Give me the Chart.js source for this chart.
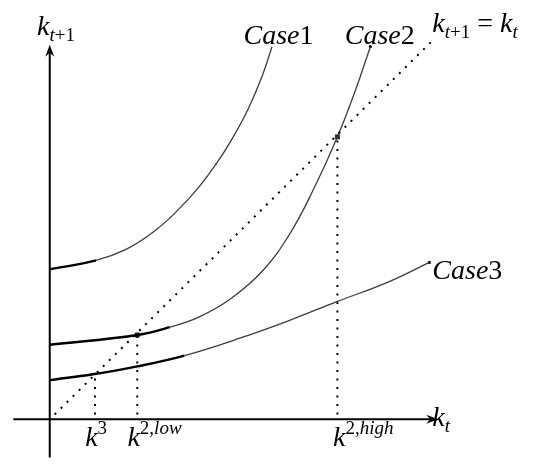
<!DOCTYPE html>
<html>
<head>
<meta charset="utf-8">
<script src="https://cdn.jsdelivr.net/npm/chart.js@4.4.0/dist/chart.umd.min.js"></script>
<style>
  html, body { margin: 0; padding: 0; background: #fff; }
  #wrap { width: 545px; height: 466px; }
</style>
</head>
<body>
<div id="wrap"><canvas id="myChart" width="545" height="466"></canvas></div>
<script>
// k_t on the x axis, k_{t+1} on the y axis, origin at (0, 0)
const case1X = [0, 47, 77, 104, 127, 151, 171, 186, 202, 216, 226];
const case1Y = [153, 162, 173, 190, 210, 236, 263, 287, 317, 350, 380];

const case2X = [0, 89, 122, 151, 184, 217, 244, 267, 292.5, 311, 326];
const case2Y = [76, 86, 94, 104, 123, 152, 189, 232, 288, 336, 380];

const case3X = [0, 44, 89, 137, 194, 244, 292, 344, 386];
const case3Y = [40, 46, 54, 65, 83, 101, 120, 140, 160];

// 45 degree line k_{t+1} = k_t
const diagX = [5, 388];
const diagY = [5, 385];

// steady states: k3, k2 low, k2 high
const steadyX = [46, 89, 292.5];
const steadyY = [46, 86, 288];

// axes
const xAxisX = [-37, 387];
const yAxisY = [-39, 378];

const pts = (xs, ys) => xs.map((v, i) => ({ x: v, y: ys[i] }));

const textLabels = [
  { at: [-13, 392], runs: [['k', 'i'], ['t', 'i', 'sub'], ['+1', '', 'sub']] },
  { at: [197, 383], runs: [['Case', 'i'], ['1', '']] },
  { at: [300, 383], runs: [['Case', 'i'], ['2', '']] },
  { at: [389, 395], runs: [['k', 'i'], ['t', 'i', 'sub'], ['+1', '', 'sub'], [' = ', ''], ['k', 'i'], ['t', 'i', 'sub']] },
  { at: [389, 143], runs: [['Case', 'i'], ['3', '']] },
  { at: [36, -27], runs: [['k', 'i'], ['3', '', 'sup']] },
  { at: [79, -27], runs: [['k', 'i'], ['2,', '', 'sup'], ['low', 'i', 'sup']] },
  { at: [288, -27], runs: [['k', 'i'], ['2,', '', 'sup'], ['high', 'i', 'sup']] },
  { at: [389, -7], runs: [['k', 'i'], ['t', 'i', 'sub']] }
];

function curve(xs, ys, thick) {
  return {
    data: pts(xs, ys),
    borderColor: '#3c3c3c',
    borderWidth: 1.3,
    pointRadius: 0,
    tension: 0.4,
    segment: {
      borderWidth: ctx => ctx.p0DataIndex < thick ? 2.4 : 1.3,
      borderColor: ctx => ctx.p0DataIndex < thick ? '#000' : '#3c3c3c'
    }
  };
}

const dotted = {
  borderColor: '#000',
  borderWidth: 2,
  borderDash: [2, 6.5],
  pointRadius: 0
};

const datasets = [
  { data: pts(xAxisX, [0, 0]), borderColor: '#000', borderWidth: 2, pointRadius: 0 },
  { data: pts([0, 0], yAxisY), borderColor: '#000', borderWidth: 2, pointRadius: 0 },
  Object.assign({ data: pts(diagX, diagY) }, dotted),
  curve(case1X, case1Y, 1),
  curve(case2X, case2Y, 2),
  curve(case3X, case3Y, 3)
];
steadyX.forEach((sx, i) => {
  datasets.push(Object.assign({ data: pts([sx, sx], [5, steadyY[i]]) }, dotted));
});
datasets.push({
  data: pts([89, 292.5], [86, 288]),
  showLine: false,
  pointStyle: 'rect',
  pointRadius: 3,
  backgroundColor: '#222',
  borderColor: '#000',
  borderWidth: 0.5
});
datasets.push({
  data: [pts(case2X, case2Y)[case2X.length - 1], pts(case3X, case3Y)[case3X.length - 1]],
  showLine: false,
  pointRadius: 1.6,
  backgroundColor: '#000',
  borderWidth: 0
});

// arrow heads at the ends of the axes
const arrowPlugin = {
  id: 'arrows',
  afterDatasetsDraw(chart) {
    const { ctx, scales: { x, y } } = chart;
    const head = (tx, ty, ang) => {
      ctx.save();
      ctx.translate(tx, ty);
      ctx.rotate(ang);
      ctx.beginPath();
      ctx.moveTo(0, 0);
      ctx.lineTo(-12, -4.5);
      ctx.lineTo(-8, 0);
      ctx.lineTo(-12, 4.5);
      ctx.closePath();
      ctx.fillStyle = '#000';
      ctx.fill();
      ctx.restore();
    };
    head(x.getPixelForValue(xAxisX[1] + 8), y.getPixelForValue(0), 0);
    head(x.getPixelForValue(0), y.getPixelForValue(yAxisY[1] + 4), -Math.PI / 2);
  }
};

// math style labels
const textPlugin = {
  id: 'mathText',
  afterDraw(chart) {
    const { ctx, scales: { x, y } } = chart;
    ctx.save();
    ctx.fillStyle = '#000';
    ctx.textBaseline = 'alphabetic';
    textLabels.forEach(lab => {
      let cx = x.getPixelForValue(lab.at[0]);
      const cy = y.getPixelForValue(lab.at[1]);
      lab.runs.forEach(r => {
        const script = r[2];
        const size = script ? 19 : 28;
        ctx.font = (r[1] === 'i' ? 'italic ' : '') + size + 'px "Liberation Serif"';
        const dy = script === 'sub' ? 6 : script === 'sup' ? -12 : 0;
        ctx.fillText(r[0], cx, cy + dy);
        cx += ctx.measureText(r[0]).width;
      });
    });
    ctx.restore();
  }
};

var ctx = document.getElementById('myChart').getContext('2d');
var myChart = new Chart(ctx, {
  type: 'line',
  data: { datasets: datasets },
  options: {
    responsive: false,
    animation: false,
    layout: { padding: 0 },
    plugins: { legend: { display: false }, tooltip: { enabled: false } },
    scales: {
      x: { type: 'linear', min: -46, max: 499, display: false },
      y: { type: 'linear', min: -43, max: 423, display: false }
    }
  },
  plugins: [arrowPlugin, textPlugin]
});
</script>
</body>
</html>
